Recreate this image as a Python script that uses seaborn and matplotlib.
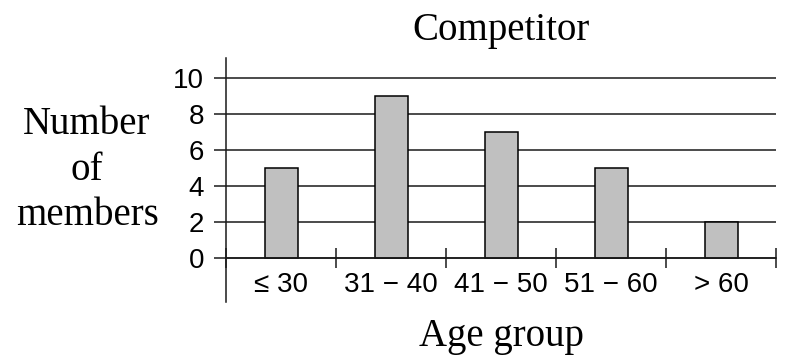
import matplotlib
matplotlib.use('Agg')
import matplotlib.pyplot as plt
import seaborn as sns
import pandas as pd
import numpy as np

age_groups = ['≤ 30', '31 − 40', '41 − 50', '51 − 60', '> 60']
members = [5, 9, 7, 5, 2]
y_ticks = [0, 2, 4, 6, 8, 10]

sns.set_theme(style='white')
plt.rcParams['font.family'] = ['Liberation Sans', 'DejaVu Sans']
plt.rcParams['text.color'] = 'black'
plt.rcParams['axes.labelcolor'] = 'black'

df = pd.DataFrame({'Age group': age_groups, 'Number of members': members})

fig = plt.figure(figsize=(7.96, 3.58), dpi=100)
ax = fig.add_axes([226 / 796, 1 - 302 / 358, 550 / 796, 244 / 358])

sns.barplot(data=df, x='Age group', y='Number of members', color='#c0c0c0',
            saturation=1, edgecolor='black', linewidth=1.1, width=0.3, ax=ax)

ax.set_xlim(-0.5, 4.5)
ax.set_ylim(-2.44, 11.11)

line_col = '#1a1a1a'
ax.set_yticks(y_ticks)
ax.yaxis.grid(True, color=line_col, linewidth=1.1)
ax.set_axisbelow(True)
ax.tick_params(axis='y', which='major', left=True, direction='out', length=8.6, width=1.1,
               color=line_col, pad=7, labelsize=20, labelcolor='black')

ax.spines['bottom'].set_position(('data', 0))
for s in ['top', 'right']:
    ax.spines[s].set_visible(False)
for s in ['left', 'bottom']:
    ax.spines[s].set_color(line_col)
    ax.spines[s].set_linewidth(1.1)

ax.set_xticks(range(len(age_groups)))
ax.set_xticklabels(age_groups)
ax.set_xticks(np.arange(-0.5, len(age_groups), 1.0), minor=True)
ax.tick_params(axis='x', which='major', bottom=True, length=0, pad=10, labelsize=20,
               labelcolor='black')
ax.tick_params(axis='x', which='minor', bottom=True, direction='inout', length=14,
               width=1.1, color=line_col)

serif = ['Liberation Serif', 'DejaVu Serif']
ax.set_title('Competitor', family=serif, fontsize=28, pad=13, color='black')
ax.set_ylabel('Number\nof\nmembers', family=serif, fontsize=28, rotation=0,
              ha='center', va='center', linespacing=1.3, color='black')
ax.yaxis.set_label_coords(-0.2527, 0.54)
ax.set_xlabel('Age group', family=serif, fontsize=28, va='baseline', color='black')
ax.xaxis.set_label_coords(0.5, -0.18)

fig.savefig('out.png', dpi=100)
